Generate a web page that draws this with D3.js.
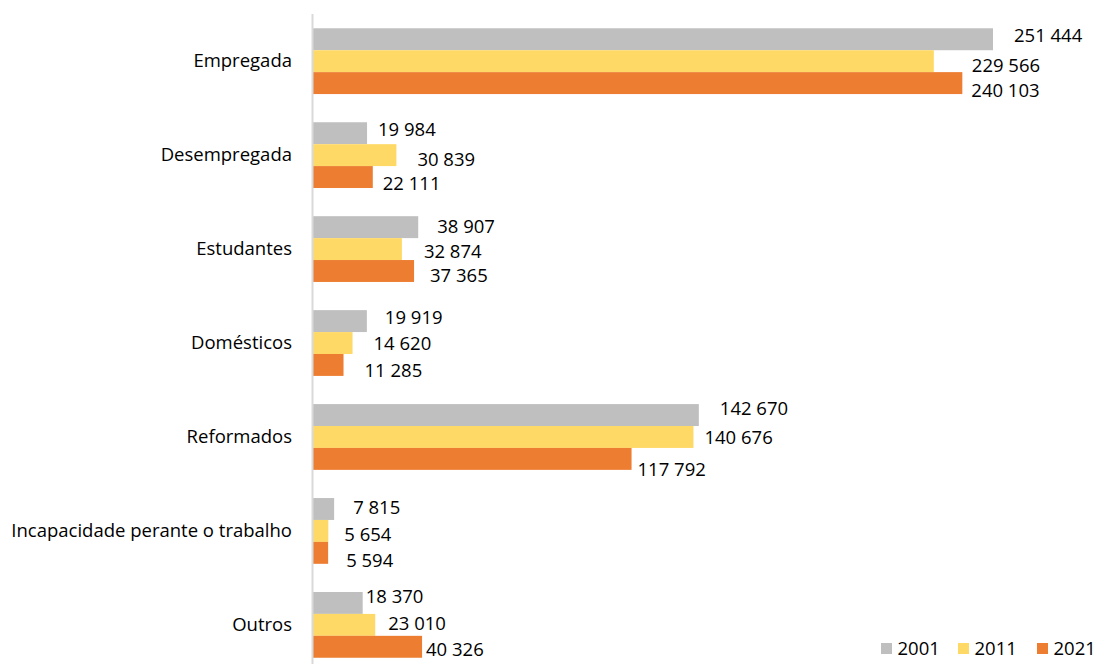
<!DOCTYPE html>
<html>
<head>
<meta charset="utf-8">
<script src="https://cdn.jsdelivr.net/npm/d3@7"></script>
<style>
  html, body { margin: 0; padding: 0; background: #ffffff; }
  svg { display: block; }
  text { font-family: "Open Sans", "Noto Sans", sans-serif; font-size: 18.5px; fill: #000; }
</style>
</head>
<body>
<svg id="chart" width="1098" height="664"></svg>
<script>
// Population by condition towards work, census years 2001, 2011 and 2021
const categories = ["Empregada", "Desempregada", "Estudantes", "Domésticos", "Reformados", "Incapacidade perante o trabalho", "Outros"];
const years = ["2001", "2011", "2021"];
const values2001 = [251444, 19984, 38907, 19919, 142670, 7815, 18370];
const values2011 = [229566, 30839, 32874, 14620, 140676, 5654, 23010];
const values2021 = [240103, 22111, 37365, 11285, 117792, 5594, 40326];
const colors = ["#BFBFBF", "#FFD966", "#ED7D31"];

// Hand-placed data label nudges (px, relative to bar end / bar centre), per series
const labelDx2001 = [21, 11, 19, 18, 21, 19, 3];
const labelDx2011 = [38, 21, 22, 21, 11, 16, 13];
const labelDx2021 = [9, 10, 16, 21, 6, 18, 4];
const labelDy2001 = [-4, -4, -1, -4, -7, -1, -6];
const labelDy2011 = [4, 4, 2, 1, 1, 4, -1];
const labelDy2021 = [7, 6, 5, 6, 11, 8, 3];

const seriesValues = [values2001, values2011, values2021];
const labelDx = [labelDx2001, labelDx2011, labelDx2021];
const labelDy = [labelDy2001, labelDy2011, labelDy2021];

const fmt = v => d3.format(",")(v).replace(/,/g, " ");

const svg = d3.select("#chart");

const axisX = 313;
const x = d3.scaleLinear().domain([0, 251444]).range([axisX, 993]);
const y = d3.scaleBand().domain(categories).range([14.2, 14.2 + 7 * 93.95]).paddingInner(0.3).paddingOuter(0.15);
const ySub = d3.scaleBand().domain(years).range([0, y.bandwidth()]);

const rows = categories.map((c, i) => ({
  category: c,
  items: years.map((yr, s) => ({ year: yr, s, i, value: seriesValues[s][i] }))
}));

const groups = svg.append("g").selectAll("g.group")
  .data(rows)
  .join("g")
  .attr("class", "group")
  .attr("transform", d => `translate(0,${y(d.category)})`);

groups.selectAll("rect")
  .data(d => d.items)
  .join("rect")
  .attr("x", x(0))
  .attr("y", d => ySub(d.year))
  .attr("width", d => x(d.value) - x(0))
  .attr("height", ySub.bandwidth())
  .attr("fill", d => colors[d.s]);

groups.selectAll("text.value")
  .data(d => d.items)
  .join("text")
  .attr("class", "value")
  .attr("x", d => x(d.value) + labelDx[d.s][d.i])
  .attr("y", d => ySub(d.year) + ySub.bandwidth() / 2 + labelDy[d.s][d.i])
  .attr("dy", "0.35em")
  .text(d => fmt(d.value));

// Category axis
const yAxis = d3.axisLeft(y).tickSize(0).tickPadding(21);
const gAxis = svg.append("g")
  .attr("transform", `translate(${axisX},0)`)
  .call(yAxis);
gAxis.select(".domain").remove();
gAxis.selectAll("text")
  .style("font-family", "'Open Sans', 'Noto Sans', sans-serif")
  .style("font-size", "18.5px")
  .attr("fill", "#000");
svg.append("line")
  .attr("x1", axisX - 0.5).attr("x2", axisX - 0.5)
  .attr("y1", 14).attr("y2", 672)
  .attr("stroke", "#D9D9D9")
  .attr("stroke-width", 2);

// Legend
const legendX = [881, 958, 1037];
const legend = svg.append("g").selectAll("g")
  .data(years)
  .join("g")
  .attr("transform", (d, i) => `translate(${legendX[i]},643)`);
legend.append("rect")
  .attr("width", 11).attr("height", 11)
  .attr("fill", (d, i) => colors[i]);
legend.append("text")
  .attr("x", 16.5).attr("y", 5.5).attr("dy", "0.35em")
  .text(d => d);
</script>
</body>
</html>
